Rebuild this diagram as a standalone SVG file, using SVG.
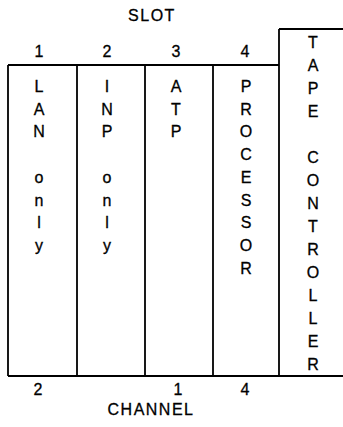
<svg xmlns="http://www.w3.org/2000/svg" width="343" height="427" viewBox="0 0 343 427">
<style>
.ln{stroke:#000;stroke-width:1.8;fill:none}
text{font-family:"Liberation Sans",Arial,sans-serif;font-size:16px;fill:#000;stroke:#000;stroke-width:0.3;text-anchor:middle}
.lbl{font-size:16px;letter-spacing:1.5px}
</style>
<rect width="343" height="427" fill="#fff"/>
<g id="frame">
<path class="ln" d="M8,65 H279 M279,29 H343 M8,376 H343 M8,65 V376 M77,65 V376 M145,65 V376 M213,65 V376 M279,29 V376"/>
</g>
<g id="slot-labels">
<text class="lbl" x="152" y="21">SLOT</text>
<text x="39" y="57">1</text>
<text x="107" y="57">2</text>
<text x="176" y="57">3</text>
<text x="245" y="57">4</text>
</g>
<g id="lan">
<text x="39" y="92">L</text><text x="39" y="114.7">A</text><text x="39" y="137.4">N</text>
<text x="39" y="182.8">o</text><text x="39" y="205.5">n</text><text x="39" y="228.2">l</text><text x="39" y="250.9">y</text>
</g>
<g id="inp">
<text x="107" y="92">I</text><text x="107" y="114.7">N</text><text x="107" y="137.4">P</text>
<text x="107" y="182.8">o</text><text x="107" y="205.5">n</text><text x="107" y="228.2">l</text><text x="107" y="250.9">y</text>
</g>
<g id="atp">
<text x="176" y="92">A</text><text x="176" y="114.7">T</text><text x="176" y="137.4">P</text>
</g>
<g id="processor">
<text x="246" y="92">P</text><text x="246" y="114.7">R</text><text x="246" y="137.4">O</text>
<text x="246" y="160.1">C</text><text x="246" y="182.8">E</text><text x="246" y="205.5">S</text>
<text x="246" y="228.2">S</text><text x="246" y="250.9">O</text><text x="246" y="273.6">R</text>
</g>
<g id="tape-controller">
<text x="313" y="48">T</text><text x="313" y="71">A</text><text x="313" y="94">P</text><text x="313" y="117">E</text>
<text x="313" y="163">C</text><text x="313" y="186">O</text><text x="313" y="209">N</text><text x="313" y="232">T</text>
<text x="313" y="255">R</text><text x="313" y="278">O</text><text x="313" y="301">L</text><text x="313" y="324">L</text>
<text x="313" y="347">E</text><text x="313" y="370">R</text>
</g>
<g id="channel-labels">
<text x="38" y="395">2</text>
<text x="178" y="395">1</text>
<text x="245" y="395">4</text>
<text class="lbl" x="151" y="415">CHANNEL</text>
</g>
</svg>
